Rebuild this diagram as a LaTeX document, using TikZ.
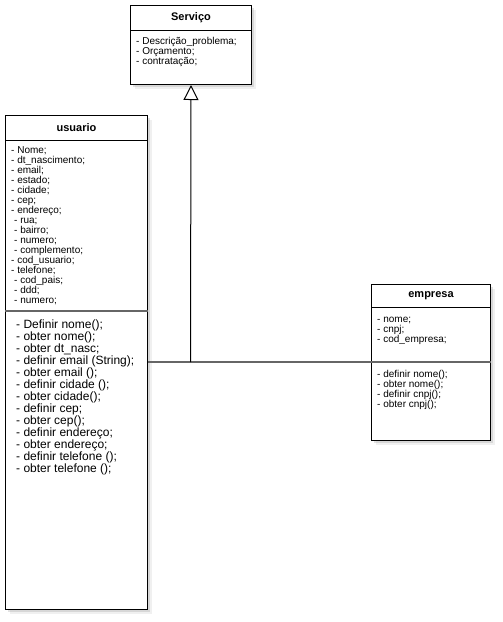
\documentclass[tikz,border=0pt]{standalone}
\usepackage{fontspec}
\setmainfont{Liberation Sans}
\usetikzlibrary{arrows.meta, shadows}
\newcommand{\subind}{\hspace*{3pt}}
\tikzset{
  classbox/.style={draw, line width=1pt, fill=white, inner sep=0pt, anchor=north west,
    drop shadow={shadow xshift=2pt, shadow yshift=-2pt, opacity=0.22},
    drop shadow={shadow xshift=4pt, shadow yshift=-4pt, opacity=0.12}},
  title/.style={font=\bfseries\fontsize{11}{12}\selectfont, inner sep=0pt},
  attr/.style={anchor=west, inner sep=0pt, text height=7pt, text depth=2pt, font=\fontsize{10}{10}\selectfont},
  meth/.style={attr, font=\fontsize{12}{12}\selectfont, text height=8.5pt, text depth=2.5pt},
  sep/.style={line width=1pt},
  gensep/.style={line width=1.4pt, black!60},
}
\begin{document}
\begin{tikzpicture}[x=1pt, y=-1pt]
    \useasboundingbox (0,0) rectangle (503,622);

    % class boxes
    \node[classbox, minimum width=121pt, minimum height=79pt] (servico) at (130,5) {};
    \node[classbox, minimum width=142pt, minimum height=494pt] (usuario) at (5,115) {};
    \node[classbox, minimum width=119pt, minimum height=156pt] (empresa) at (371,284) {};

    % compartments
    \draw[sep] ([yshift=-25pt]servico.north west) -- ([yshift=-25pt]servico.north east);
    \draw[sep] ([yshift=-25pt]usuario.north west) -- ([yshift=-25pt]usuario.north east);
    \draw[gensep] ([yshift=-196pt]usuario.north west) -- ([yshift=-196pt]usuario.north east);
    \draw[sep] ([yshift=-23pt]empresa.north west) -- ([yshift=-23pt]empresa.north east);
    \draw[gensep] ([yshift=-78pt]empresa.north west) -- ([yshift=-78pt]empresa.north east);

    % titles
    \node[title] (servicoT) at ([yshift=-13pt]servico.north) {Serviço};
    \node[title] (usuarioT) at ([yshift=-13pt]usuario.north) {usuario};
    \node[title] (empresaT) at ([yshift=-12pt]empresa.north) {empresa};

    % Servico
    \foreach \t [count=\i] in {- Descrição\_problema;, - Orçamento;, - contratação;}
        \node[attr] (sa\i) at (136, 32+10*\i) {\t};

    % usuario
    \foreach \t [count=\i] in {- Nome;, - dt\_nascimento;, - email;, - estado;, - cidade;, - cep;,
        - endereço;, \subind- rua;, \subind- bairro;, \subind- numero;, \subind- complemento;,
        - cod\_usuario;, - telefone;, \subind- cod\_pais;, \subind- ddd;, \subind- numero;}
        \node[attr] (ua\i) at (11, 141+10*\i) {\t};
    \foreach \t [count=\i] in {- Definir nome();, - obter nome();, - obter dt\_nasc;,
        - definir email (String);, - obter email ();, - definir cidade ();, - obter cidade();,
        - definir cep;, - obter cep();, - definir endereço;, - obter endereço;,
        - definir telefone ();, - obter telefone ();}
        \node[meth] (um\i) at (16, 313.5+12*\i) {\t};

    % empresa
    \foreach \t [count=\i] in {- nome;, - cnpj;, - cod\_empresa;}
        \node[attr] (ea\i) at (377, 310+10*\i) {\t};
    \foreach \t [count=\i] in {- definir nome();, - obter nome();, - definir cnpj();, - obter cnpj();}
        \node[attr] (em\i) at (377, 365+10*\i) {\t};

    % generalization
    \coordinate (joint) at (190.5,362);
    \draw[gensep] (usuario.east |- joint) -- (empresa.west |- joint);
    \draw[line width=1pt, -{Triangle[open, length=15pt, width=15pt]}] (joint) -- (servico.south);
\end{tikzpicture}
\end{document}
